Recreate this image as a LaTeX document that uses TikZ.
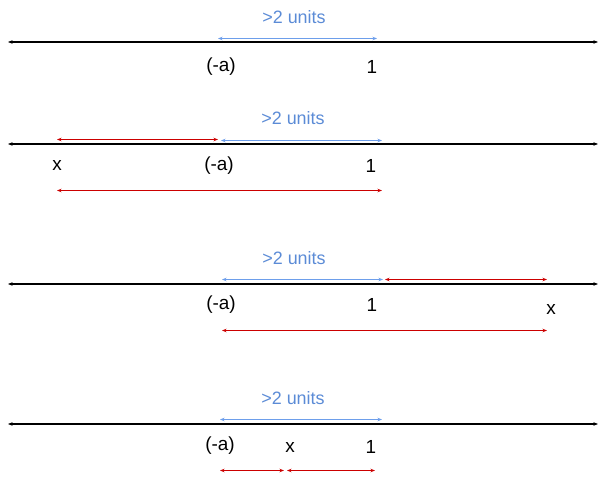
\documentclass[tikz,border=0pt]{standalone}
\usepackage{fontspec}
\setmainfont{Liberation Sans}
\usepackage{xcolor}
\usetikzlibrary{arrows.meta, positioning, calc}
\definecolor{gap-blue}{HTML}{6D9EEB}
\definecolor{gap-text}{HTML}{5B8BD6}
\definecolor{span-red}{HTML}{CC0000}

\begin{document}
\begin{tikzpicture}[x=1bp, y=1bp,
    >={Stealth[length=4.5pt,width=3.5pt]},
    numline/.style={black, line width=1.1bp, <->},
    gapline/.style={gap-blue, line width=1bp, <->},
    spanline/.style={span-red, line width=1bp, <->},
    gaplabel/.style={gap-text, font=\fontsize{18}{20}\selectfont},
    ticklabel/.style={black, font=\fontsize{19}{21}\selectfont}]
    \useasboundingbox (0,0) rectangle (606,480);

    % number lines
    \foreach \n/\y in {1/438, 2/336, 3/196, 4/56} {
        \coordinate (L\n) at (8,\y);
        \coordinate (R\n) at (598,\y);
        \draw[numline] (L\n) -- (R\n);
    }

    % first line
    \node[gaplabel] (units1) at (294,463) {>2 units};
    \coordinate (ga1) at (218,441.5);
    \coordinate (gb1) at (377,441.5);
    \draw[gapline] (ga1) -- (gb1);
    \node[ticklabel] (na1) at (221,413) {(-a)};
    \node[ticklabel] (one1) at (372,413) {1};

    % second line, x left of (-a)
    \node[gaplabel] (units2) at (293,362) {>2 units};
    \coordinate (ra2) at (57,340.5);
    \coordinate (rb2) at (218,340.5);
    \coordinate (ga2) at (221,339.5);
    \coordinate (gb2) at (382,339.5);
    \draw[spanline] (ra2) -- (rb2);
    \draw[gapline] (ga2) -- (gb2);
    \node[ticklabel] (x2) at (57,314) {x};
    \node[ticklabel] (na2) at (219,314) {(-a)};
    \node[ticklabel] (one2) at (371,314) {1};
    \coordinate (sa2) at (57,289.5);
    \coordinate (sb2) at (382,289.5);
    \draw[spanline] (sa2) -- (sb2);

    % third line, x right of 1
    \node[gaplabel] (units3) at (294,222) {>2 units};
    \coordinate (ga3) at (222,200.5);
    \coordinate (gb3) at (383,200.5);
    \coordinate (ra3) at (385,200.5);
    \coordinate (rb3) at (547,200.5);
    \draw[gapline] (ga3) -- (gb3);
    \draw[spanline] (ra3) -- (rb3);
    \node[ticklabel] (na3) at (221,175) {(-a)};
    \node[ticklabel] (one3) at (372,175) {1};
    \node[ticklabel] (x3) at (551,170) {x};
    \coordinate (sa3) at (222,149.5);
    \coordinate (sb3) at (547,149.5);
    \draw[spanline] (sa3) -- (sb3);

    % fourth line, x between (-a) and 1
    \node[gaplabel] (units4) at (293,82) {>2 units};
    \coordinate (ga4) at (220,60.5);
    \coordinate (gb4) at (382,60.5);
    \draw[gapline] (ga4) -- (gb4);
    \node[ticklabel] (na4) at (220,34) {(-a)};
    \node[ticklabel] (x4) at (290,32) {x};
    \node[ticklabel] (one4) at (371,33) {1};
    \coordinate (sa4) at (220,9.5);
    \coordinate (sm4) at (284,9.5);
    \coordinate (sn4) at (287,9.5);
    \coordinate (sb4) at (375,9.5);
    \draw[spanline] (sa4) -- (sm4);
    \draw[spanline] (sn4) -- (sb4);
\end{tikzpicture}
\end{document}
